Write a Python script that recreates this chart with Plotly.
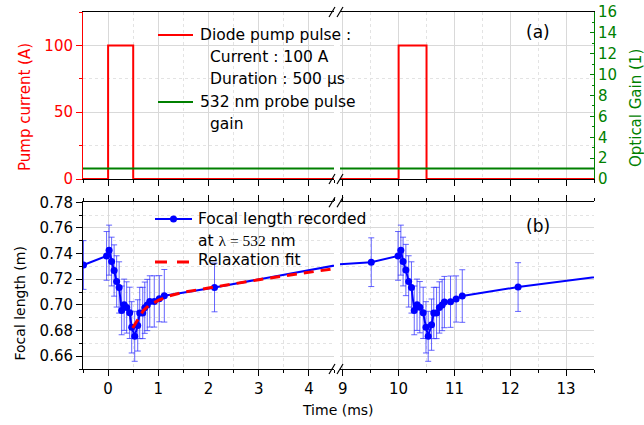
import plotly.graph_objects as go

# ---------------- data ----------------
pump_time = [-0.5, 0.0, 0.5, 10.0, 10.5, 14.0]
pump_current = [0, 100, 0, 100, 0, 0]

gain_time = [-0.5, 14.0]
gain_value = [1, 1]

# points at 5.0, 8.0 and 15.5 ms lie inside the axis break / beyond the frame (only their lines show)
focal_time = [-0.49, -0.03, 0.02, 0.07, 0.12, 0.17, 0.22, 0.27, 0.32, 0.37, 0.43, 0.47,
              0.53, 0.59, 0.63, 0.69, 0.73, 0.78, 0.83, 0.92, 1.02, 1.12, 2.12, 5.00, 8.00,
              9.51, 9.99, 10.04, 10.08, 10.13, 10.18, 10.23, 10.28, 10.33, 10.38, 10.44, 10.49,
              10.53, 10.59, 10.63, 10.68, 10.73, 10.78, 10.82, 10.93, 11.03, 11.14, 12.14, 15.50]
focal_length = [0.7311, 0.7382, 0.7427, 0.7338, 0.7268, 0.7183, 0.7136, 0.6957, 0.7001, 0.6980, 0.6938, 0.6825,
                0.6755, 0.6840, 0.6937, 0.6937, 0.6978, 0.6999, 0.7027, 0.7027, 0.7048, 0.7071, 0.7136, 0.7342, 0.7292,
                0.7333, 0.7382, 0.7427, 0.7338, 0.7272, 0.7183, 0.7136, 0.6957, 0.7001, 0.6982, 0.6938, 0.6825,
                0.6755, 0.6846, 0.6937, 0.6937, 0.6980, 0.6999, 0.7022, 0.7025, 0.7046, 0.7069, 0.7139, 0.7330]
focal_err = [0.019, 0.019, 0.0195, 0.019, 0.020, 0.020, 0.020, 0.019, 0.020, 0.020, 0.020, 0.020,
             0.0195, 0.020, 0.020, 0.020, 0.020, 0.020, 0.020, 0.020, 0.018, 0.0205, 0.019, 0.019, 0.019,
             0.019, 0.019, 0.0195, 0.019, 0.020, 0.020, 0.020, 0.019, 0.020, 0.020, 0.020, 0.020,
             0.0195, 0.020, 0.020, 0.020, 0.020, 0.020, 0.020, 0.020, 0.018, 0.0205, 0.019, 0.019]

fit_time = [0.49, 0.55, 0.60, 0.70, 0.80, 0.90, 1.00, 1.20, 1.50, 2.00, 2.50, 3.00, 3.50, 4.00, 4.50]
fit_focal = [0.6820, 0.6858, 0.6885, 0.6955, 0.6992, 0.7014, 0.7035, 0.7068, 0.7098, 0.7132,
             0.7166, 0.7196, 0.7226, 0.7255, 0.7282]

range_left = [-0.5, 4.5]
range_right = [8.95, 13.5]

# ---------------- styling helpers ----------------
W, H = 644, 425
ML, MR, MT, MB = 83, 50, 12, 56
PW, PH = W - ML - MR, H - MT - MB

def px(x):
    return (x - ML) / PW

def py(y):
    return (H - MB - y) / PH

FONT = "DejaVu Sans"
RED, GREEN, BLUE = "#ff0000", "#008000", "#0000ff"
GRID, MGRID = "#d9d9d9", "#e3e3e3"

dom_left = [0, px(334)]
dom_right = [px(340), 1]
dom_top = [py(179), 1]
dom_bot = [0, py(202.3)]

fig = go.Figure()

# top panel: pump current (red) and gain (green)
for xa in ["x", "x2"]:
    fig.add_trace(go.Scatter(x=gain_time, y=gain_value, xaxis=xa, yaxis="y2", mode="lines",
                             line=dict(color=GREEN, width=2), showlegend=False, hoverinfo="skip"))
    fig.add_trace(go.Scatter(x=pump_time, y=pump_current, xaxis=xa, yaxis="y", mode="lines",
                             line=dict(color=RED, width=2, shape="hv"), showlegend=False, hoverinfo="skip"))

# bottom panel: focal length
for xa in ["x3", "x4"]:
    fig.add_trace(go.Scatter(x=focal_time, y=focal_length, xaxis=xa, yaxis="y3", mode="lines+markers",
                             line=dict(color=BLUE, width=2), marker=dict(color=BLUE, size=7),
                             error_y=dict(type="data", array=focal_err, color="rgba(50,50,255,0.75)",
                                          thickness=1, width=3),
                             showlegend=False))
fig.add_trace(go.Scatter(x=fit_time, y=fit_focal, xaxis="x3", yaxis="y3", mode="lines",
                         line=dict(color=RED, width=3, dash="10px,7px"), showlegend=False))

tickfont = dict(family=FONT, size=15, color="black")

def xaxis(domain, rng, anchor, labels, mirror):
    return dict(domain=domain, range=rng, anchor=anchor, showline=True, linecolor="black", linewidth=1,
                mirror=mirror, ticks="outside", ticklen=6, tickcolor="black", tickwidth=1,
                dtick=1, tick0=0, showticklabels=labels, tickfont=tickfont, automargin=False,
                showgrid=True, gridcolor=GRID, gridwidth=1, zeroline=False,
                minor=dict(dtick=0.5, tick0=0, ticks="outside", ticklen=3, tickcolor="black",
                           showgrid=True, gridcolor=MGRID, griddash="dot"),
                layer="below traces")

fig.update_layout(
    width=W, height=H, margin=dict(l=ML, r=MR, t=MT, b=MB, autoexpand=False),
    paper_bgcolor="white", plot_bgcolor="white", showlegend=False,
    font=dict(family=FONT, size=15, color="black"),
    xaxis=xaxis(dom_left, range_left, "y", False, True),
    xaxis2=xaxis(dom_right, range_right, "y", False, True),
    xaxis3=xaxis(dom_left, range_left, "y3", True, "ticks"),
    xaxis4=xaxis(dom_right, range_right, "y3", True, "ticks"),
    yaxis=dict(domain=dom_top, range=[0, 125], anchor="x", side="left", showline=True,
               linecolor=RED, linewidth=1, ticks="outside", ticklen=6, tickcolor=RED, dtick=50, tick0=0,
               tickfont=dict(family=FONT, size=15, color=RED), showgrid=True, gridcolor=GRID,
               zeroline=False, automargin=False,
               minor=dict(dtick=25, tick0=0, ticks="outside", ticklen=3, tickcolor=RED,
                          showgrid=True, gridcolor=MGRID, griddash="dot")),
    yaxis2=dict(overlaying="y", anchor="x2", side="right", range=[0, 16], showline=True,
                linecolor=GREEN, linewidth=1, ticks="inside", ticklen=4, tickcolor=GREEN, dtick=2, tick0=0,
                tickfont=dict(family=FONT, size=15, color=GREEN), showgrid=False, zeroline=False,
                automargin=False,
                minor=dict(dtick=1, tick0=0, ticks="inside", ticklen=2, tickcolor=GREEN, showgrid=False)),
    yaxis3=dict(domain=dom_bot, range=[0.65, 0.78], anchor="x3", side="left", showline=True,
                linecolor="black", linewidth=1, ticks="outside", ticklen=6, tickcolor="black",
                dtick=0.02, tick0=0, tickformat=".2f", tickfont=tickfont, showgrid=True,
                gridcolor=GRID, zeroline=False, automargin=False,
                minor=dict(dtick=0.01, tick0=0, ticks="outside", ticklen=3, tickcolor="black",
                           showgrid=True, gridcolor=MGRID, griddash="dot")),
    yaxis4=dict(overlaying="y3", anchor="x4", side="right", range=[0.65, 0.78], showline=True,
                linecolor="black", linewidth=1, ticks="inside", ticklen=4, tickcolor="black",
                dtick=0.02, tick0=0, showticklabels=False, showgrid=False, zeroline=False,
                automargin=False,
                minor=dict(dtick=0.01, tick0=0, ticks="inside", ticklen=4, tickcolor="black",
                           showgrid=False)),
)

ann = []
shapes = []

def text(x, y, s, size=15.5, color="black", xanchor="left", angle=0):
    ann.append(dict(x=px(x), y=py(y), xref="paper", yref="paper", text=s, showarrow=False,
                    xanchor=xanchor, yanchor="middle", textangle=angle,
                    font=dict(family=FONT, size=size, color=color)))

def seg(x0, y0, x1, y1, color, width, dash="solid"):
    shapes.append(dict(type="line", xref="paper", yref="paper", x0=px(x0), y0=py(y0),
                       x1=px(x1), y1=py(y1), line=dict(color=color, width=width, dash=dash)))

# legend (a)
seg(158, 35, 193, 35, RED, 2)
text(198, 35, "Diode pump pulse :")
text(208, 57, "Current : 100 A")
text(208, 79, "Duration : 500 µs")
seg(158, 102, 193, 102, GREEN, 2)
text(198, 102, "532 nm probe pulse")
text(208, 124, "gain")

# legend (b)
seg(155, 219, 192, 219, BLUE, 2)
shapes.append(dict(type="circle", xref="paper", yref="paper", xsizemode="pixel", ysizemode="pixel",
                   xanchor=px(173.5), yanchor=py(219), x0=-3.5, x1=3.5, y0=-3.5, y1=3.5,
                   fillcolor=BLUE, line=dict(color=BLUE, width=0)))
text(196, 219, "Focal length recorded")
text(196, 241, 'at <span style="font-family:Liberation Serif">λ = 532</span> nm')
seg(155, 262, 191, 262, RED, 3, "12px,10px")
text(196, 260, "Relaxation fit")

# panel labels
text(538, 32, "(a)", size=17, xanchor="center")
text(538, 226, "(b)", size=17, xanchor="center")

# axis titles
text(25, 107, "Pump current (A)", size=15, color=RED, xanchor="center", angle=-90)
text(636, 108, "Optical Gain (1)", size=15, color=GREEN, xanchor="center", angle=-90)
text(19.5, 304, "Focal length (m)", size=14, xanchor="center", angle=-90)
text(338, 410, "Time (ms)", size=14, xanchor="center")

# axis break marks
for yb in [12, 179, 202.3, 369]:
    seg(329, yb + 5, 335, yb - 5, "black", 1.2)
    seg(337, yb + 5, 343, yb - 5, "black", 1.2)

fig.update_layout(annotations=ann, shapes=shapes)
fig.write_html("out.html")
